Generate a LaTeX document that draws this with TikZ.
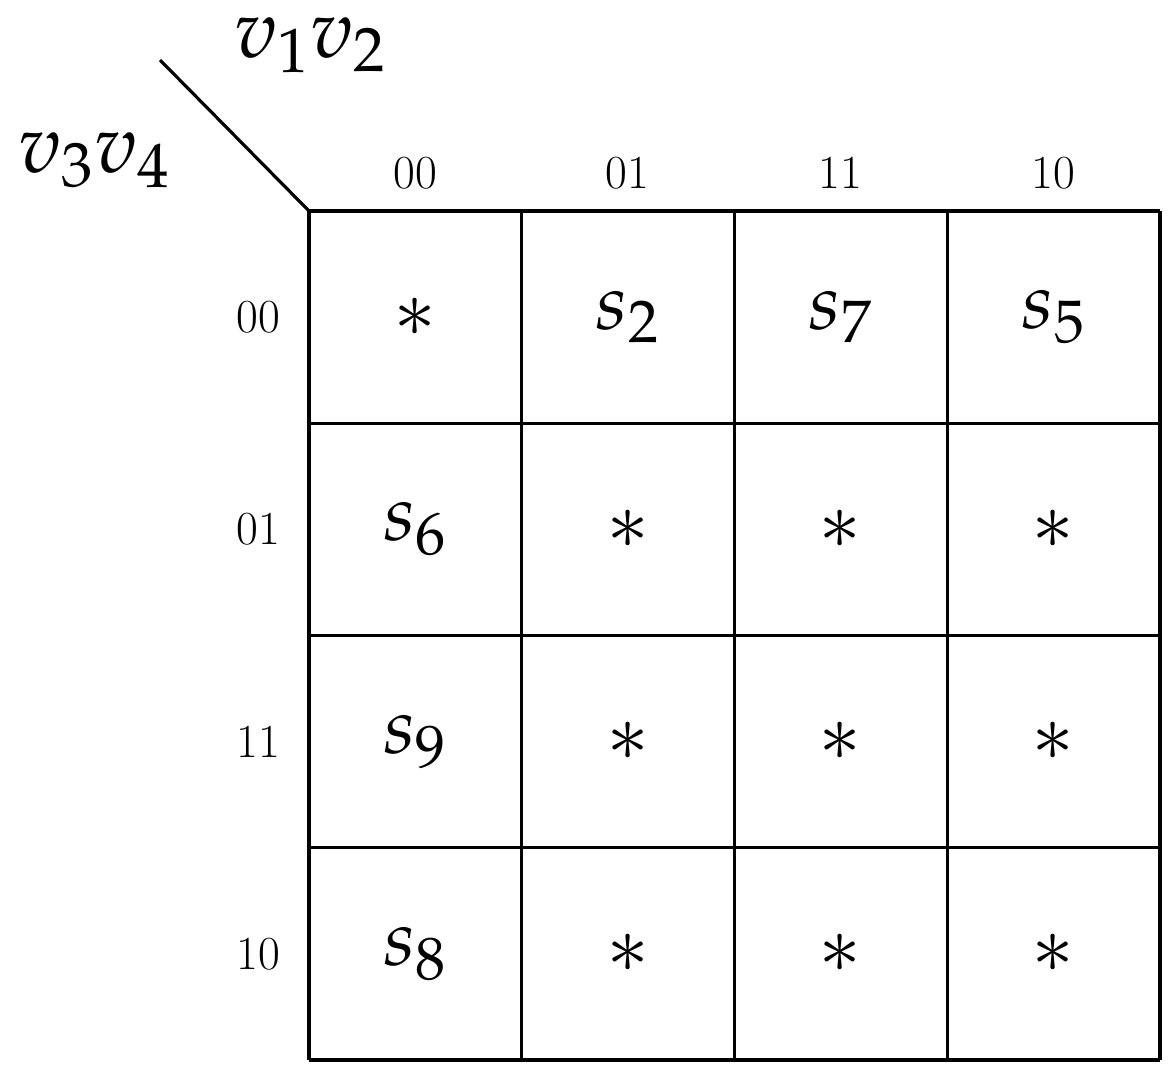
\documentclass[tikz,border=0pt]{standalone}
\usepackage[osf]{mathpazo}
\begin{document}
\begin{tikzpicture}[x=0.02cm,y=-0.02cm,
  big/.style={font=\fontsize{45}{50}\selectfont},
  small/.style={font=\fontsize{27}{32}\selectfont},
  grid/.style={line width=1.8pt}]
\useasboundingbox (0,0) rectangle (1175,1079);
\foreach \i in {0,...,4}{
  \draw[grid] ({309+\i*212.75},211) -- ({309+\i*212.75},1060);
  \draw[grid] (309,{211+\i*212.25}) -- (1160,{211+\i*212.25});
}
\coordinate (d1) at (160,60);
\coordinate (d2) at (309,211);
\draw[grid] (d1) -- (d2);
\node[font=\fontsize{47}{50}\selectfont] (h1) at (310,45) {$v_1v_2$};
\node[font=\fontsize{47}{50}\selectfont] (h2) at (94,160) {$v_3v_4$};
\foreach \l [count=\c from 0] in {00,01,11,10}{
  \node[small] (c\c) at ({415+\c*212.75},173) {\l};
  \node[small] (r\c) at (258,{317+\c*212.25}) {\l};
}
\def\cell#1#2#3{\node[big] (m#1#2) at ({415+#2*212.75},{317+#1*212.25}) {$#3$};}
\cell00{*}\cell01{s_2}\cell02{s_7}\cell03{s_5}
\cell10{s_6}\cell11{*}\cell12{*}\cell13{*}
\cell20{s_9}\cell21{*}\cell22{*}\cell23{*}
\cell30{s_8}\cell31{*}\cell32{*}\cell33{*}
\end{tikzpicture}
\end{document}
